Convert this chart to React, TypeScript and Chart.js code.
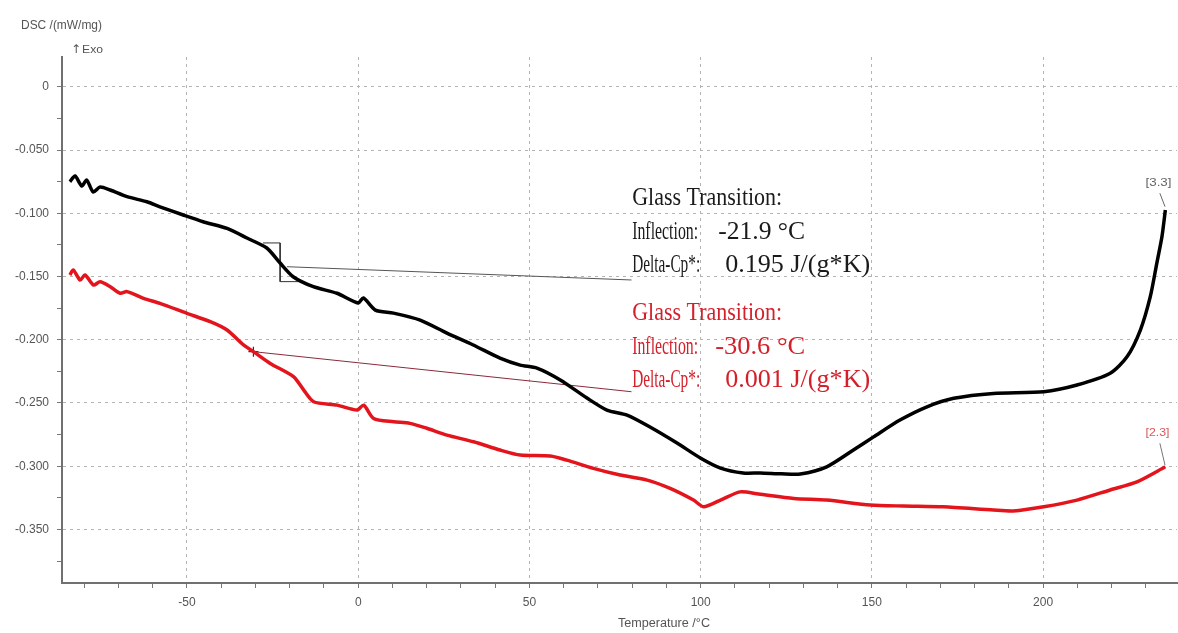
import React, { useEffect, useRef } from "react";
import { Chart, registerables } from "chart.js";

Chart.register(...registerables);

// ---- data: temperature (°C) / DSC (mW/mg) ----
const blackT = [-84.2, -82.7, -80.7, -79.3, -77.4, -75.4, -72.4, -67.5, -61.7, -57.9, -51.1, -45.3, -38.3, -32.5, -26.7, -22.8, -19.0, -13.1, -6.2, 0.0, 1.5, 5.0, 10.3, 18.1, 25.9, 33.6, 41.4, 47.3, 52.2, 59.0, 66.8, 72.6, 78.5, 85.2, 93.1, 99.9, 105.8, 112.4, 117.4, 123.5, 129.1, 136.8, 144.6, 150.5, 158.2, 166.1, 173.9, 185.5, 200.2, 209.9, 219.6, 224.5, 228.4, 231.3, 233.2, 234.7, 235.7];
const blackV = [-0.0750, -0.0704, -0.0784, -0.0736, -0.0831, -0.0791, -0.0815, -0.0868, -0.0908, -0.0948, -0.1013, -0.1066, -0.1119, -0.1195, -0.1274, -0.1393, -0.1501, -0.1580, -0.1632, -0.1709, -0.1669, -0.1765, -0.1789, -0.1844, -0.1947, -0.2041, -0.2145, -0.2200, -0.2224, -0.2318, -0.2461, -0.2556, -0.2596, -0.2690, -0.2817, -0.2935, -0.3015, -0.3054, -0.3054, -0.3060, -0.3062, -0.3005, -0.2872, -0.2768, -0.2635, -0.2530, -0.2463, -0.2424, -0.2411, -0.2358, -0.2265, -0.2135, -0.1923, -0.1659, -0.1395, -0.1185, -0.0974];

const redT = [-84.2, -83.2, -81.2, -79.8, -77.3, -75.4, -72.4, -69.5, -67.5, -62.7, -57.9, -50.0, -43.2, -38.3, -33.5, -30.6, -25.7, -18.9, -15.9, -13.0, -6.2, -0.4, 1.6, 4.5, 10.4, 15.1, 20.0, 25.9, 33.7, 41.4, 47.3, 56.1, 60.9, 68.7, 76.5, 84.4, 91.1, 97.9, 100.9, 105.8, 111.5, 116.9, 127.2, 136.8, 149.5, 159.2, 170.9, 185.5, 191.3, 200.2, 209.9, 219.6, 227.4, 235.7];
const redV = [-0.1487, -0.1448, -0.1528, -0.1487, -0.1567, -0.1541, -0.1580, -0.1632, -0.1619, -0.1672, -0.1712, -0.1791, -0.1857, -0.1923, -0.2041, -0.2094, -0.2187, -0.2292, -0.2398, -0.2490, -0.2517, -0.2556, -0.2517, -0.2622, -0.2648, -0.2661, -0.2700, -0.2754, -0.2807, -0.2872, -0.2912, -0.2920, -0.2952, -0.3017, -0.3070, -0.3110, -0.3176, -0.3268, -0.3321, -0.3268, -0.3203, -0.3220, -0.3255, -0.3268, -0.3307, -0.3315, -0.3321, -0.3347, -0.3354, -0.3321, -0.3268, -0.3188, -0.3124, -0.3005];

// glass-transition evaluation marks
const blackBracketT = [-27.8, -22.8, -22.8, -16.9];
const blackBracketV = [-0.1234, -0.1234, -0.1540, -0.1540];
const blackLeaderT = [-20.8, 79.8];
const blackLeaderV = [-0.1422, -0.1527];
const redLeaderT = [-30.6, 79.8];
const redLeaderV = [-0.2094, -0.2411];
const redMarkT = [-30.6];
const redMarkV = [-0.2094];
const blackEndLeaderT = [234.1, 235.6];
const blackEndLeaderV = [-0.0841, -0.0947];
const redEndLeaderT = [234.1, 235.6];
const redEndLeaderV = [-0.2819, -0.2991];

// ticks
const xTicks = [-80, -70, -60, -50, -40, -30, -20, -10, 0, 10, 20, 30, 40, 50, 60, 70, 80, 90, 100, 110, 120, 130, 140, 150, 160, 170, 180, 190, 200, 210, 220, 230];
const xMajor = [-50, 0, 50, 100, 150, 200];
const xMajorLabels = ["-50", "0", "50", "100", "150", "200"];
const yTicks = [-0.375, -0.35, -0.325, -0.3, -0.275, -0.25, -0.225, -0.2, -0.175, -0.15, -0.125, -0.1, -0.075, -0.05, -0.025, 0];
const yMajor = [0, -0.05, -0.1, -0.15, -0.2, -0.25, -0.3, -0.35];
const yMajorLabels = ["0", "-0.050", "-0.100", "-0.150", "-0.200", "-0.250", "-0.300", "-0.350"];

// texts
const yTitle = "DSC /(mW/mg)";
const exoLabel = "Exo";
const xTitle = "Temperature /°C";
const noteTitle = "Glass Transition:";
const inflLabel = "Inflection:";
const dcpLabel = "Delta-Cp*:";
const blackInfl = "-21.9 °C";
const blackDcp = "0.195 J/(g*K)";
const redInfl = "-30.6 °C";
const redDcp = "0.001 J/(g*K)";
const blackEndLabel = "[3.3]";
const redEndLabel = "[2.3]";
const noteT = 80.0;
const blackNoteV = -0.0934;
const redNoteV = -0.1843;
const blackEndLabelT = 233.7;
const blackEndLabelV = -0.0762;
const redEndLabelT = 233.4;
const redEndLabelV = -0.274;

const pts = (t: number[], v: number[]) => t.map((x, i) => ({ x, y: v[i] }));
const idxOf = (arr: number[], v: number) => arr.findIndex((m) => Math.abs(m - v) < 1e-9);

const fitText = (ctx: CanvasRenderingContext2D, text: string, x: number, y: number, width: number, font: string, color: string, baseline: CanvasTextBaseline = "alphabetic") => {
  ctx.save();
  ctx.font = font;
  ctx.fillStyle = color;
  ctx.textBaseline = baseline;
  ctx.textAlign = "left";
  const w = ctx.measureText(text).width || 1;
  ctx.translate(x, y);
  ctx.scale(width / w, 1);
  ctx.fillText(text, 0, 0);
  ctx.restore();
};

const SERIF = "25px 'Liberation Serif', 'DejaVu Serif', serif";
const SANS = "'Liberation Sans', Arial, sans-serif";

const textPlugin = {
  id: "dscTexts",
  afterDatasetsDraw(chart: any) {
    const ctx: CanvasRenderingContext2D = chart.ctx;
    const xs = chart.scales.x;
    const ys = chart.scales.y;
    const x0 = xs.getPixelForValue(noteT);
    const yb = ys.getPixelForValue(blackNoteV);
    const yr = ys.getPixelForValue(redNoteV);
    const black = "#1a1a1a";
    const red = "#d4202a";
    fitText(ctx, noteTitle, x0, yb, 150, SERIF, black);
    fitText(ctx, inflLabel, x0, yb + 34, 66, SERIF, black);
    fitText(ctx, blackInfl, x0 + 86, yb + 34, 87, SERIF, black);
    fitText(ctx, dcpLabel, x0, yb + 67, 68, SERIF, black);
    fitText(ctx, blackDcp, x0 + 93, yb + 67, 145, SERIF, black);

    fitText(ctx, noteTitle, x0, yr, 150, SERIF, red);
    fitText(ctx, inflLabel, x0, yr + 34, 66, SERIF, red);
    fitText(ctx, redInfl, x0 + 83, yr + 34, 90, SERIF, red);
    fitText(ctx, dcpLabel, x0, yr + 67, 68, SERIF, red);
    fitText(ctx, redDcp, x0 + 93, yr + 67, 145, SERIF, red);

    const bx = xs.getPixelForValue(blackEndLabelT);
    const by = ys.getPixelForValue(blackEndLabelV);
    fitText(ctx, blackEndLabel, bx - 13, by, 26, "11px " + SANS, "#666", "middle");
    const rx = xs.getPixelForValue(redEndLabelT);
    const ry = ys.getPixelForValue(redEndLabelV);
    fitText(ctx, redEndLabel, rx - 12, ry, 24, "11px " + SANS, "#d45a5a", "middle");
  },
  afterDraw(chart: any) {
    const ctx: CanvasRenderingContext2D = chart.ctx;
    fitText(ctx, yTitle, 21, 29, 81, "12px " + SANS, "#555");
    ctx.save();
    ctx.font = "12px 'DejaVu Sans', sans-serif";
    ctx.fillStyle = "#555";
    ctx.textBaseline = "alphabetic";
    ctx.fillText("↑", 71, 53);
    ctx.restore();
    fitText(ctx, exoLabel, 82, 53, 21, "11px " + SANS, "#555");
    fitText(ctx, xTitle, 618, 627, 92, "12px " + SANS, "#555");
  },
};

export default function App() {
  const ref = useRef<HTMLCanvasElement | null>(null);

  useEffect(() => {
    if (!ref.current) return;
    const thin = { pointRadius: 0, borderWidth: 1, fill: false, tension: 0 };
    const chart = new Chart(ref.current, {
      type: "line",
      data: {
        datasets: [
          { data: pts(blackT, blackV), borderColor: "#000000", borderWidth: 3.5, pointRadius: 0, fill: false, tension: 0.25 },
          { data: pts(redT, redV), borderColor: "#e3141c", borderWidth: 3.5, pointRadius: 0, fill: false, tension: 0.25 },
          { data: pts(blackBracketT, blackBracketV), borderColor: "#333", ...thin },
          { data: pts(blackLeaderT, blackLeaderV), borderColor: "#555", ...thin },
          { data: pts(redLeaderT, redLeaderV), borderColor: "#8a2a3a", ...thin },
          { data: pts(redMarkT, redMarkV), showLine: false, pointStyle: "cross", pointRadius: 5, pointBorderColor: "#5a1a20", pointBorderWidth: 1.2, borderColor: "#5a1a20" },
          { data: pts(blackEndLeaderT, blackEndLeaderV), borderColor: "#666", ...thin },
          { data: pts(redEndLeaderT, redEndLeaderV), borderColor: "#777", ...thin },
        ],
      },
      options: {
        responsive: false,
        animation: false,
        devicePixelRatio: 1,
        layout: { autoPadding: false, padding: { top: 57, right: 1, left: 0, bottom: 0 } },
        plugins: { legend: { display: false }, tooltip: { enabled: false } },
        scales: {
          x: {
            type: "linear",
            min: -86.5,
            max: 239.1,
            afterBuildTicks: (s: any) => {
              s.ticks = xTicks.map((value) => ({ value }));
            },
            afterFit: (s: any) => {
              s.height = 50;
              s.paddingLeft = 0;
              s.paddingRight = 0;
            },
            ticks: {
              autoSkip: false,
              maxRotation: 0,
              padding: 7,
              color: "#555",
              font: { family: SANS, size: 12 },
              callback: (v: any) => {
                const i = idxOf(xMajor, Number(v));
                return i >= 0 ? xMajorLabels[i] : "";
              },
            },
            grid: {
              color: (c: any) => (c.tick && idxOf(xMajor, c.tick.value) >= 0 ? "#b4b4b4" : "rgba(0,0,0,0)"),
              tickColor: "#777",
              tickLength: 5,
              lineWidth: 1,
            },
            border: { color: "#707070", width: 2, dash: [3, 4] },
          },
          y: {
            type: "linear",
            min: -0.3924,
            max: 0.0237,
            afterBuildTicks: (s: any) => {
              s.ticks = yTicks.map((value) => ({ value }));
            },
            afterFit: (s: any) => {
              s.width = 62;
              s.paddingTop = 0;
              s.paddingBottom = 0;
            },
            ticks: {
              autoSkip: false,
              padding: 8,
              color: "#555",
              font: { family: SANS, size: 12 },
              callback: (v: any) => {
                const i = idxOf(yMajor, Number(v));
                return i >= 0 ? yMajorLabels[i] : "";
              },
            },
            grid: {
              color: (c: any) => (c.tick && idxOf(yMajor, c.tick.value) >= 0 ? "#b4b4b4" : "rgba(0,0,0,0)"),
              tickColor: "#777",
              tickLength: 5,
              lineWidth: 1,
            },
            border: { color: "#707070", width: 2, dash: [3, 4] },
          },
        },
      } as any,
      plugins: [textPlugin],
    });
    return () => chart.destroy();
  }, []);

  return (
    <div style={{ position: "absolute", left: 0, top: 0, width: 1178, height: 633, background: "#fff" }}>
      <canvas ref={ref} width={1178} height={633} style={{ display: "block" }} />
    </div>
  );
}
